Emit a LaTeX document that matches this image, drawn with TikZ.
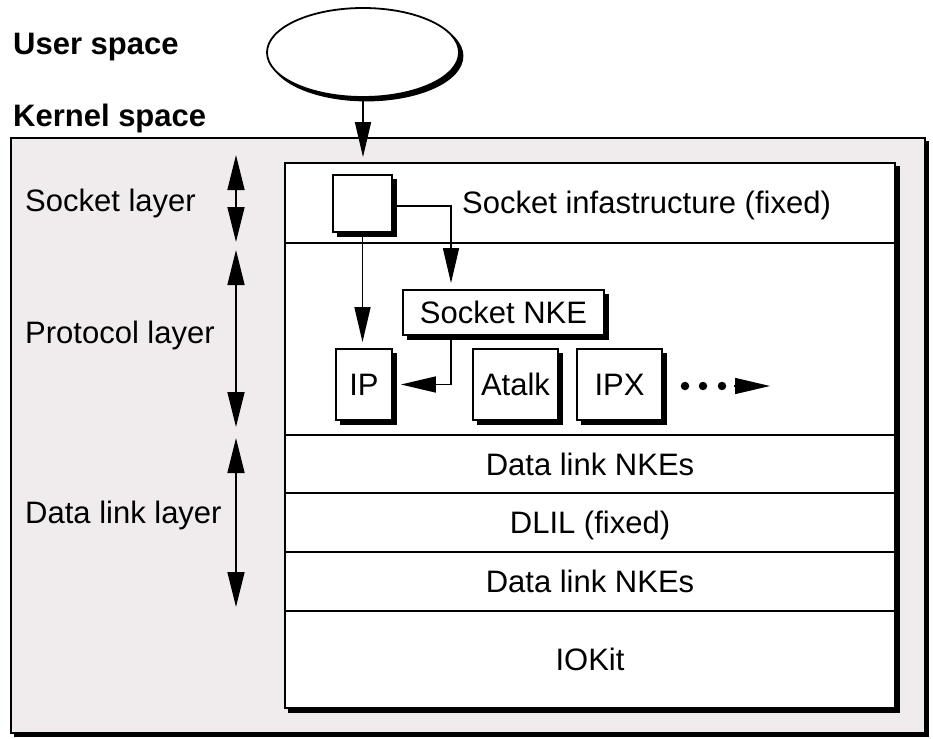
\documentclass[tikz,border=0pt]{standalone}
\usepackage{fontspec}
\setmainfont{Liberation Sans}
\usetikzlibrary{arrows.meta,shapes.geometric}
\definecolor{kernelgray}{RGB}{240,236,237}
\begin{document}
\begin{tikzpicture}[x=1pt,y=-1pt,
  every node/.style={font=\fontsize{31}{37}\selectfont},
  blk/.style={draw, line width=1.8pt, fill=white, inner sep=0pt, text height=22.2pt, text depth=0pt},
  dropshadow/.style={preaction={fill=black, draw=black, line width=1.8pt, transform canvas={xshift=#1, yshift=-#1}}},
  dropshadow/.default=4.5pt,
  conn/.style={line width=1.5pt, -{Triangle[length=35pt,width=16pt]}},
  dbl/.style={line width=1.5pt, {Triangle[length=35pt,width=17pt]}-{Triangle[length=35pt,width=17pt]}},
  lbl/.style={anchor=base west, inner sep=0pt},
  title/.style={anchor=base west, inner sep=0pt, font=\fontsize{31}{37}\selectfont\bfseries},
  dot/.style={circle, fill=black, inner sep=0pt, minimum size=8.5pt},
]
\useasboundingbox (0,0) rectangle (933,738);
\fill[white] (0,0) rectangle (933,738);

% titles
\node[title] (userlbl) at (13,55) {User space};
\node[title] (kernlbl) at (13,127) {Kernel space};

% user-space process
\node[ellipse, draw, line width=1.8pt, fill=white, minimum width=192pt, minimum height=89pt, inner sep=0pt,
      dropshadow=3.5pt] (user) at (363,52.5) {};

% kernel space frame
\node[draw, line width=1.8pt, fill=kernelgray, dropshadow=3.5pt, minimum width=914pt, minimum height=595pt, inner sep=0pt] (kernel) at (468,435.5) {};

% layer stack
\node[blk, dropshadow=4pt, minimum width=610pt, minimum height=545pt] (inner) at (590,435.5) {};
\node[blk, minimum width=610pt, minimum height=80pt] (sockrow) at (590,203) {};
\node[blk, minimum width=610pt, minimum height=192pt] (protorow) at (590,339) {};
\node[blk, minimum width=610pt, minimum height=58pt] (dlnke1) at (590,464) {Data link NKEs};
\node[blk, minimum width=610pt, minimum height=59pt] (dlil) at (590,522.5) {DLIL (fixed)};
\node[blk, minimum width=610pt, minimum height=59pt] (dlnke2) at (590,581.5) {Data link NKEs};
\node[blk, minimum width=610pt, minimum height=97pt] (iokit) at (590,659.5) {IOKit};

\node[lbl] (sockinfra) at (462,213) {Socket infastructure (fixed)};

% socket and protocol boxes
\node[blk, dropshadow, minimum width=59pt, minimum height=57pt] (sockbox) at (362.5,203.5) {};
\node[blk, dropshadow, minimum width=201pt, minimum height=45pt] (nke) at (503.5,312.5) {Socket NKE};
\node[blk, dropshadow, minimum width=56pt, minimum height=71pt] (ip) at (364,384.5) {IP};
\node[blk, dropshadow, minimum width=85pt, minimum height=71pt] (atalk) at (515.5,384.5) {Atalk};
\node[blk, dropshadow, minimum width=85pt, minimum height=71pt] (ipx) at (619.5,384.5) {IPX};

% more protocols
\node[dot] (dot1) at (685,386) {};
\node[dot] (dot2) at (703,386) {};
\node[dot] (dot3) at (722,386) {};
\coordinate (morestart) at (734,386);
\coordinate (moreend) at (770,386);
\draw[conn] (morestart) -- (moreend);

% connectors
\draw[conn, shorten >=5pt] (user.south) -- (user.south |- inner.north);
\draw[conn, shorten >=6pt] (sockbox.south) -- (sockbox.south |- ip.north);
\draw[conn, shorten >=6pt] ([yshift=-2.5pt]sockbox.east) -| ([xshift=-52.5pt]nke.north);
\draw[conn, shorten >=8pt] ([xshift=-52.5pt]nke.south) |- (ip.east);

% layer labels and extents
\node[lbl] (socklbl) at (25,211) {Socket layer};
\node[lbl] (protolbl) at (25,343) {Protocol layer};
\node[lbl] (dllbl) at (25,523) {Data link layer};

\coordinate (sa) at (236,155);
\coordinate (sb) at (236,242);
\coordinate (pa) at (236,250);
\coordinate (pb) at (236,427);
\coordinate (da) at (236,438);
\coordinate (db) at (236,607);
\draw[dbl] (sa) -- (sb);
\draw[dbl] (pa) -- (pb);
\draw[dbl] (da) -- (db);
\end{tikzpicture}
\end{document}
